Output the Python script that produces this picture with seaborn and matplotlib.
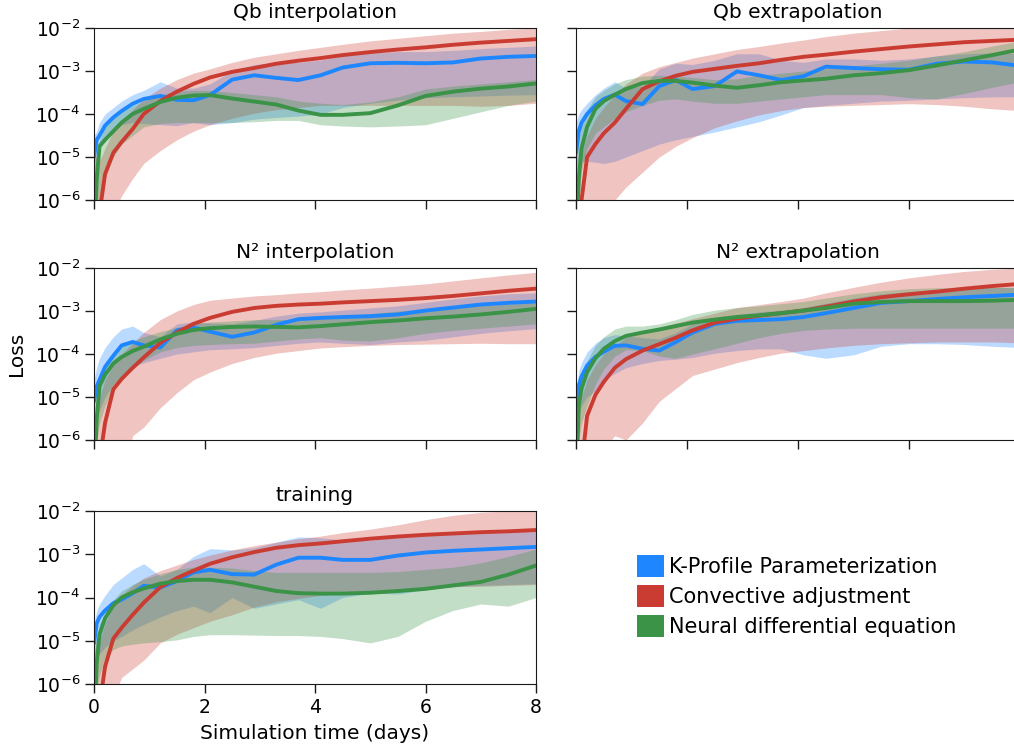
import numpy as np
import matplotlib
matplotlib.use("Agg")
import matplotlib.pyplot as plt
import seaborn as sns
from matplotlib.patches import Patch
from matplotlib.ticker import NullLocator

# simulation time (days)
days = [0, 0.05, 0.1, 0.2, 0.35, 0.5, 0.7, 0.9, 1.2, 1.5, 1.8, 2.1, 2.5,
        2.9, 3.3, 3.7, 4.1, 4.5, 5.0, 5.5, 6.0, 6.5, 7.0, 7.5, 8.0]

labels = ["K-Profile Parameterization", "Convective adjustment", "Neural differential equation"]
colors = ["#1e87ff", "#ca3c32", "#3a9346"]

# all values are log10(loss): mean line, lower and upper band

# Qb interpolation
qbi_kpp = [-5.0, -4.6, -4.5, -4.27, -4.08, -3.93, -3.76, -3.65, -3.58, -3.67, -3.68, -3.56, -3.2,
           -3.1, -3.16, -3.21, -3.1, -2.92, -2.82, -2.81, -2.82, -2.8, -2.71, -2.67, -2.65]
qbi_kpp_lo = [-5.5, -5.0, -4.7, -4.6, -4.4, -4.25, -4.2, -4.22, -4.25, -4.27, -4.2, -4.25, -4.2,
              -4.12, -4.08, -4.05, -4.0, -3.85, -3.75, -3.68, -3.62, -3.6, -3.58, -3.56, -3.55]
qbi_kpp_hi = [-4.5, -4.4, -4.2, -4.0, -3.85, -3.7, -3.55, -3.45, -3.25, -3.4, -3.4, -3.3, -3.0,
              -2.85, -2.8, -2.8, -2.75, -2.65, -2.58, -2.55, -2.55, -2.52, -2.48, -2.45, -2.42]
qbi_ca = [-7, -7, -6.3, -5.4, -4.9, -4.65, -4.35, -4.0, -3.7, -3.48, -3.3, -3.15, -3.02,
          -2.93, -2.83, -2.76, -2.7, -2.63, -2.56, -2.5, -2.45, -2.39, -2.34, -2.3, -2.26]
qbi_ca_lo = [-7, -7, -7, -7, -6.3, -5.9, -5.5, -5.15, -4.85, -4.6, -4.4, -4.25, -4.1,
             -3.98, -3.9, -3.85, -3.8, -3.8, -3.8, -3.8, -3.8, -3.8, -3.82, -3.8, -3.75]
qbi_ca_hi = [-5.0, -5.0, -5.1, -4.8, -4.4, -4.15, -3.9, -3.65, -3.4, -3.2, -3.05, -2.95, -2.8,
             -2.68, -2.6, -2.52, -2.45, -2.38, -2.3, -2.24, -2.18, -2.12, -2.08, -2.03, -2.0]
qbi_nde = [-7, -5.5, -4.75, -4.6, -4.4, -4.2, -4.0, -3.88, -3.72, -3.62, -3.57, -3.56, -3.64,
           -3.71, -3.78, -3.92, -4.02, -4.02, -3.98, -3.8, -3.58, -3.48, -3.41, -3.36, -3.29]
qbi_nde_lo = [-7, -6.5, -6.0, -5.4, -5.0, -4.7, -4.5, -4.3, -4.22, -4.2, -4.2, -4.2, -4.2,
              -4.18, -4.15, -4.15, -4.25, -4.28, -4.3, -4.28, -4.25, -4.1, -3.95, -3.8, -3.7]
qbi_nde_hi = [-5.5, -4.9, -4.6, -4.3, -4.1, -3.95, -3.8, -3.7, -3.55, -3.47, -3.45, -3.45, -3.5,
              -3.55, -3.6, -3.7, -3.75, -3.78, -3.72, -3.6, -3.42, -3.35, -3.3, -3.25, -3.2]

# Qb extrapolation
qbe_kpp = [-4.9, -4.4, -4.2, -4.0, -3.8, -3.65, -3.55, -3.7, -3.77, -3.35, -3.21, -3.42, -3.35,
           -3.01, -3.1, -3.21, -3.12, -2.9, -2.93, -2.96, -2.97, -2.83, -2.78, -2.8, -2.88]
qbe_kpp_lo = [-5.5, -5.2, -5.1, -5.1, -5.12, -5.15, -5.1, -5.0, -4.85, -4.7, -4.6, -4.52, -4.42,
              -4.3, -4.18, -4.02, -3.85, -3.8, -3.75, -3.7, -3.68, -3.65, -3.62, -3.6, -3.6]
qbe_kpp_hi = [-4.2, -4.0, -3.9, -3.75, -3.55, -3.4, -3.25, -3.4, -3.35, -2.95, -2.82, -2.85, -2.75,
              -2.6, -2.6, -2.75, -2.8, -2.72, -2.72, -2.75, -2.72, -2.65, -2.6, -2.58, -2.6]
qbe_ca = [-7, -7, -6.0, -5.0, -4.7, -4.45, -4.2, -3.88, -3.42, -3.24, -3.11, -3.02, -2.95,
          -2.88, -2.82, -2.74, -2.67, -2.62, -2.55, -2.49, -2.43, -2.38, -2.33, -2.3, -2.27]
qbe_ca_lo = [-7, -7, -7, -7, -7, -7, -6.0, -5.7, -5.35, -5.0, -4.75, -4.55, -4.32,
             -4.16, -4.02, -3.92, -3.85, -3.82, -3.8, -3.78, -3.76, -3.78, -3.82, -3.88, -3.92]
qbe_ca_hi = [-5.5, -5.3, -4.9, -4.5, -4.1, -3.85, -3.55, -3.3, -3.05, -2.9, -2.8, -2.7, -2.6,
             -2.5, -2.43, -2.35, -2.28, -2.2, -2.12, -2.06, -2.0, -1.98, -1.98, -1.98, -1.98]
qbe_nde = [-7, -5.5, -4.8, -4.3, -3.88, -3.7, -3.55, -3.42, -3.28, -3.23, -3.23, -3.27, -3.34,
           -3.39, -3.33, -3.26, -3.22, -3.18, -3.1, -3.05, -2.98, -2.87, -2.75, -2.63, -2.5]
qbe_nde_lo = [-7, -6.0, -5.3, -4.8, -4.45, -4.3, -4.1, -3.95, -3.8, -3.68, -3.65, -3.7, -3.75,
              -3.75, -3.7, -3.65, -3.6, -3.55, -3.55, -3.55, -3.62, -3.65, -3.52, -3.38, -3.25]
qbe_nde_hi = [-5.0, -4.6, -4.2, -3.9, -3.6, -3.45, -3.3, -3.2, -3.12, -3.1, -3.12, -3.15, -3.2,
              -3.18, -3.1, -3.05, -3.0, -2.95, -2.88, -2.82, -2.75, -2.65, -2.55, -2.42, -2.3]

# N2 interpolation
n2i_kpp = [-5.1, -4.75, -4.6, -4.3, -4.04, -3.8, -3.72, -3.8, -3.85, -3.45, -3.38, -3.48, -3.6,
           -3.5, -3.32, -3.19, -3.16, -3.14, -3.12, -3.08, -2.99, -2.92, -2.85, -2.81, -2.78]
n2i_kpp_lo = [-5.6, -5.5, -5.3, -5.0, -4.7, -4.5, -4.3, -4.2, -4.1, -4.0, -3.95, -3.9, -3.88,
              -3.85, -3.8, -3.75, -3.72, -3.75, -3.78, -3.72, -3.68, -3.6, -3.52, -3.46, -3.41]
n2i_kpp_hi = [-4.6, -4.3, -4.1, -3.85, -3.6, -3.42, -3.35, -3.5, -3.6, -3.3, -3.25, -3.28, -3.3,
              -3.22, -3.12, -3.05, -3.02, -2.98, -2.93, -2.88, -2.8, -2.72, -2.65, -2.6, -2.58]
n2i_ca = [-7, -7, -6.5, -5.6, -4.82, -4.58, -4.32, -4.08, -3.74, -3.5, -3.3, -3.16, -3.02,
          -2.93, -2.88, -2.85, -2.83, -2.8, -2.77, -2.74, -2.7, -2.65, -2.59, -2.53, -2.48]
n2i_ca_lo = [-7, -7, -7, -7, -7, -7, -5.9, -5.7, -5.25, -4.9, -4.6, -4.42, -4.22,
             -4.08, -3.98, -3.92, -3.86, -3.83, -3.8, -3.78, -3.77, -3.76, -3.75, -3.76, -3.76]
n2i_ca_hi = [-5.5, -5.3, -5.0, -4.6, -4.25, -4.0, -3.75, -3.5, -3.2, -3.0, -2.85, -2.75, -2.7,
             -2.65, -2.62, -2.58, -2.55, -2.51, -2.47, -2.42, -2.37, -2.3, -2.23, -2.16, -2.1]
n2i_nde = [-7, -5.5, -4.75, -4.48, -4.22, -4.07, -3.93, -3.83, -3.66, -3.53, -3.44, -3.4, -3.37,
           -3.36, -3.37, -3.38, -3.35, -3.31, -3.26, -3.22, -3.17, -3.13, -3.08, -3.02, -2.95]
n2i_nde_lo = [-7, -6.0, -5.6, -5.2, -4.8, -4.55, -4.35, -4.15, -3.95, -3.85, -3.8, -3.78, -3.76,
              -3.75, -3.7, -3.65, -3.62, -3.68, -3.7, -3.62, -3.52, -3.45, -3.4, -3.35, -3.3]
n2i_nde_hi = [-5.5, -5.0, -4.5, -4.2, -3.95, -3.8, -3.7, -3.6, -3.48, -3.38, -3.3, -3.26, -3.23,
              -3.2, -3.2, -3.2, -3.18, -3.12, -3.06, -3.0, -2.96, -2.92, -2.88, -2.84, -2.8]

# N2 extrapolation
n2e_kpp = [-5.5, -4.73, -4.52, -4.27, -4.07, -3.95, -3.81, -3.8, -3.88, -3.92, -3.72, -3.5, -3.3,
           -3.23, -3.21, -3.19, -3.14, -3.05, -2.93, -2.81, -2.77, -2.72, -2.68, -2.65, -2.62]
n2e_kpp_lo = [-5.7, -5.4, -5.2, -5.0, -4.85, -4.6, -4.45, -4.32, -4.22, -4.15, -4.12, -4.08, -3.98,
              -3.92, -3.88, -3.88, -4.02, -4.1, -4.02, -3.82, -3.76, -3.76, -3.78, -3.82, -3.85]
n2e_kpp_hi = [-4.8, -4.4, -4.2, -3.95, -3.75, -3.62, -3.55, -3.58, -3.62, -3.65, -3.5, -3.3, -3.15,
              -3.08, -3.02, -2.98, -2.92, -2.82, -2.7, -2.6, -2.55, -2.5, -2.47, -2.45, -2.45]
n2e_ca = [-7, -7, -6.6, -5.44, -4.95, -4.65, -4.32, -4.12, -3.92, -3.77, -3.62, -3.45, -3.27,
          -3.18, -3.11, -3.05, -2.99, -2.9, -2.78, -2.68, -2.61, -2.55, -2.48, -2.42, -2.37]
n2e_ca_lo = [-7, -7, -7, -7, -7, -6.2, -5.9, -6.0, -5.6, -5.1, -4.8, -4.5, -4.35,
             -4.2, -4.08, -3.98, -3.92, -3.86, -3.8, -3.76, -3.74, -3.72, -3.72, -3.72, -3.74]
n2e_ca_hi = [-5.5, -5.3, -5.0, -4.6, -4.25, -4.0, -3.8, -3.62, -3.5, -3.38, -3.28, -3.18, -3.05,
             -2.92, -2.85, -2.78, -2.7, -2.58, -2.45, -2.33, -2.23, -2.15, -2.08, -2.03, -2.0]
n2e_nde = [-7, -5.2, -4.8, -4.42, -4.1, -3.88, -3.7, -3.58, -3.5, -3.43, -3.35, -3.27, -3.2,
           -3.14, -3.1, -3.05, -2.99, -2.93, -2.83, -2.79, -2.77, -2.77, -2.77, -2.76, -2.74]
n2e_nde_lo = [-7, -6.0, -5.6, -5.2, -4.7, -4.35, -4.05, -3.9, -3.92, -4.05, -4.1, -4.0, -3.88,
              -3.75, -3.62, -3.52, -3.45, -3.42, -3.4, -3.4, -3.4, -3.4, -3.4, -3.4, -3.4]
n2e_nde_hi = [-5.5, -4.8, -4.5, -4.15, -3.8, -3.6, -3.42, -3.35, -3.35, -3.3, -3.2, -3.08, -2.98,
              -2.92, -2.88, -2.83, -2.78, -2.7, -2.6, -2.53, -2.48, -2.46, -2.45, -2.45, -2.45]

# training
trn_kpp = [-5.06, -4.6, -4.45, -4.3, -4.13, -4.05, -3.9, -3.73, -3.77, -3.62, -3.42, -3.36, -3.46,
           -3.47, -3.24, -3.08, -3.08, -3.13, -3.13, -3.03, -2.96, -2.92, -2.89, -2.86, -2.83]
trn_kpp_lo = [-5.6, -5.4, -5.3, -5.15, -5.0, -4.9, -4.75, -4.62, -4.45, -4.3, -4.2, -4.35, -4.0,
              -4.25, -4.15, -4.05, -4.25, -4.0, -3.9, -3.92, -3.82, -3.75, -3.72, -3.7, -3.68]
trn_kpp_hi = [-4.6, -4.3, -4.15, -3.95, -3.7, -3.55, -3.35, -3.22, -3.5, -3.35, -3.05, -2.87, -2.9,
              -2.85, -2.72, -2.6, -2.62, -2.67, -2.68, -2.6, -2.53, -2.5, -2.48, -2.46, -2.45]
trn_ca = [-7, -7, -6.5, -5.6, -4.95, -4.7, -4.4, -4.12, -3.76, -3.55, -3.38, -3.22, -3.07,
          -2.95, -2.85, -2.79, -2.75, -2.7, -2.64, -2.59, -2.55, -2.52, -2.49, -2.47, -2.44]
trn_ca_lo = [-7, -7, -7, -7, -6.3, -5.85, -5.65, -5.45, -5.05, -4.85, -4.7, -4.55, -4.4,
             -4.22, -4.1, -4.02, -3.95, -3.9, -3.85, -3.8, -3.76, -3.75, -3.74, -3.72, -3.7]
trn_ca_hi = [-5.5, -5.3, -5.0, -4.6, -4.2, -3.95, -3.72, -3.55, -3.38, -3.25, -3.12, -3.02, -2.9,
             -2.8, -2.72, -2.64, -2.58, -2.5, -2.42, -2.32, -2.2, -2.1, -2.03, -2.0, -2.0]
trn_nde = [-7, -5.5, -4.85, -4.48, -4.18, -4.0, -3.88, -3.79, -3.68, -3.62, -3.59, -3.59, -3.65,
           -3.75, -3.85, -3.9, -3.91, -3.91, -3.89, -3.85, -3.8, -3.72, -3.64, -3.47, -3.26]
trn_nde_lo = [-7, -6.2, -5.8, -5.4, -5.2, -5.12, -5.08, -5.05, -5.02, -4.98, -4.9, -4.86, -4.86,
              -4.87, -4.88, -4.88, -4.9, -4.95, -5.05, -4.9, -4.55, -4.3, -4.15, -4.2, -4.0]
trn_nde_hi = [-5.3, -4.9, -4.6, -4.35, -4.05, -3.85, -3.7, -3.58, -3.45, -3.35, -3.3, -3.3, -3.32,
              -3.38, -3.42, -3.42, -3.42, -3.42, -3.42, -3.4, -3.35, -3.3, -3.2, -3.05, -2.88]

panels = [
    ("Qb interpolation", [(qbi_kpp, qbi_kpp_lo, qbi_kpp_hi), (qbi_ca, qbi_ca_lo, qbi_ca_hi), (qbi_nde, qbi_nde_lo, qbi_nde_hi)]),
    ("Qb extrapolation", [(qbe_kpp, qbe_kpp_lo, qbe_kpp_hi), (qbe_ca, qbe_ca_lo, qbe_ca_hi), (qbe_nde, qbe_nde_lo, qbe_nde_hi)]),
    ("N\u00b2 interpolation", [(n2i_kpp, n2i_kpp_lo, n2i_kpp_hi), (n2i_ca, n2i_ca_lo, n2i_ca_hi), (n2i_nde, n2i_nde_lo, n2i_nde_hi)]),
    ("N\u00b2 extrapolation", [(n2e_kpp, n2e_kpp_lo, n2e_kpp_hi), (n2e_ca, n2e_ca_lo, n2e_ca_hi), (n2e_nde, n2e_nde_lo, n2e_nde_hi)]),
    ("training", [(trn_kpp, trn_kpp_lo, trn_kpp_hi), (trn_ca, trn_ca_lo, trn_ca_hi), (trn_nde, trn_nde_lo, trn_nde_hi)]),
]

sns.set_style("ticks")
plt.rcParams["font.family"] = ["DejaVu Sans"]
for key in ["text.color", "axes.labelcolor", "xtick.color", "ytick.color"]:
    plt.rcParams[key] = "black"
plt.rcParams["axes.edgecolor"] = "#1a1a1a"

fig = plt.figure(figsize=(10.14, 7.54), dpi=100)

W, H = 1014, 754
col_x = [(94, 442), (576, 444)]
row_y = [(28, 172), (268, 172), (511, 173)]

for k, (title, series) in enumerate(panels):
    r, c = divmod(k, 2)
    x0, w = col_x[c]
    y0, h = row_y[r]
    ax = fig.add_axes([x0 / W, 1 - (y0 + h) / H, w / W, h / H])
    for (mean, lo, hi), col in zip(series, colors):
        sns.lineplot(x=days, y=10.0 ** np.array(mean), ax=ax, color=col, lw=2.8)
        ax.fill_between(days, 10.0 ** np.array(lo), 10.0 ** np.array(hi),
                        color=col, alpha=0.3, lw=0)
    ax.set_yscale("log")
    ax.set_ylim(1e-6, 1e-2)
    ax.set_xlim(0, 8)
    ax.set_xticks([0, 2, 4, 6, 8])
    ax.set_yticks([1e-6, 1e-5, 1e-4, 1e-3, 1e-2])
    ax.yaxis.set_minor_locator(NullLocator())
    ax.tick_params(axis="both", which="major", length=6.5, width=1, labelsize=13.5,
                   direction="out", color="#1a1a1a")
    ax.set_title(title, fontsize=14.5, pad=7)
    ax.set_xlabel("")
    ax.set_ylabel("")
    if c == 1:
        ax.set_yticklabels([])
    if r < 2:
        ax.set_xticklabels([])
    if k == 2:
        ax.set_ylabel("Loss", fontsize=14.5, labelpad=7)
    if k == 4:
        ax.set_xlabel("Simulation time (days)", fontsize=14.5, labelpad=5)

handles = [Patch(facecolor=col, edgecolor="none") for col in colors]
fig.legend(handles, labels, loc="center left", bbox_to_anchor=(637 / W, 1 - 596 / H),
           frameon=False, fontsize=15, handlelength=1.3, handleheight=1.3,
           handletextpad=0.25, labelspacing=0.35, borderpad=0, borderaxespad=0)

fig.savefig("out.png", dpi=100)
plt.close(fig)
